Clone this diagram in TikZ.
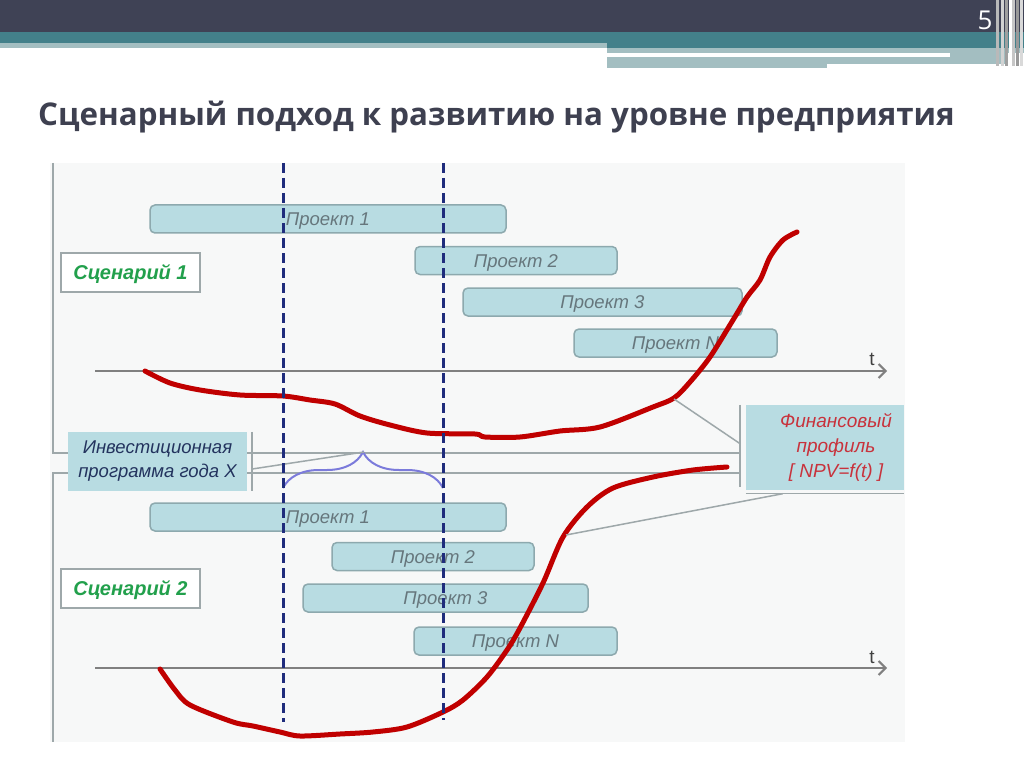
\documentclass[tikz,border=0pt]{standalone}
\usepackage{fontspec}
\setmainfont{Liberation Sans}
\newfontfamily\headfont{Open Sans}
\usetikzlibrary{arrows.meta,positioning,decorations.pathreplacing}
\definecolor{bannerdark}{HTML}{3F4255}
\definecolor{bannerteal}{HTML}{43808A}
\definecolor{bannerlight}{HTML}{A3BEC1}
\definecolor{titlegray}{HTML}{3E4050}
\definecolor{panelgray}{HTML}{F7F8F8}
\definecolor{framegray}{HTML}{9EA8AA}
\definecolor{barfill}{HTML}{B8DCE2}
\definecolor{barline}{HTML}{8DA9AE}
\definecolor{bartext}{HTML}{66767C}
\definecolor{scengreen}{HTML}{22A04C}
\definecolor{periodnavy}{HTML}{1F2C7C}
\definecolor{profred}{HTML}{C00000}
\definecolor{finred}{HTML}{C8323C}
\definecolor{invnavy}{HTML}{23335E}
\definecolor{bracelilac}{HTML}{7B7BDB}
\tikzset{
  project/.style={rectangle,rounded corners=5pt,draw=barline,line width=1.5pt,fill=barfill,minimum height=28pt,inner sep=0pt,text height=13.5pt,text depth=0pt,font=\fontsize{18.5}{22}\selectfont\itshape,text=bartext},
  scenario/.style={rectangle,draw=framegray,line width=1.2pt,fill=white,minimum width=139pt,minimum height=39pt,text height=14.5pt,text depth=0pt,font=\fontsize{20}{24}\selectfont\bfseries\itshape,text=scengreen},
  timeaxis/.style={-{Straight Barb[length=7pt,width=14pt]},line width=2pt,draw=gray},
  frameline/.style={draw=framegray,line width=1.5pt},
  period/.style={draw=periodnavy,line width=3pt,dash pattern=on 10pt off 5pt},
  profile/.style={draw=profred,line width=5pt,line cap=round,line join=round},
  callout/.style={rectangle,fill=barfill,inner sep=0pt,align=center},
  link/.style={draw=framegray,line width=1.5pt}
}

\begin{document}
\begin{tikzpicture}[x=1pt,y=-1pt]
    \useasboundingbox (0,0) rectangle (1024,767);
    \fill[white] (0,0) rectangle (1024,767);

    % banner
    \fill[bannerdark] (0,0) rectangle (1024,32);
    \fill[bannerteal] (0,32) rectangle (1024,43);
    \fill[bannerteal] (607,43) rectangle (1024,48);
    \fill[bannerlight] (0,43) rectangle (607,48);
    \fill[bannerlight] (607,48) rectangle (1024,53);
    \fill[bannerlight] (950,53) rectangle (1007,57);
    \fill[bannerlight] (607,57) rectangle (827,68);
    \fill[bannerlight] (827,57) rectangle (1007,64);
    \foreach \sx/\sc in {996/gray!55,1001/gray!35,1005/gray!75,1009/white,1012/gray!45,1016/gray!80,1020/gray!30} {
      \fill[\sc] (\sx,0) rectangle (\sx+3,66);
    }
    \node[font=\headfont\fontsize{26}{30}\selectfont,text=white] (pagenum) at (985,20) {5};
    \node[anchor=base west,inner sep=0pt,font=\headfont\bfseries\fontsize{31.3}{38}\selectfont,text=titlegray] (title) at (38,126) {Сценарный подход к развитию на уровне предприятия};

    % panel and frames
    \fill[panelgray] (50,163) rectangle (905,742);
    \draw[frameline] (53,163) -- (53,453) -- (740,453);
    \draw[frameline] (740,473) -- (53,473) -- (53,742);

    % time axes
    \coordinate (ax1s) at (95,371);
    \coordinate (ax1e) at (887,371);
    \coordinate (ax2s) at (95,668);
    \coordinate (ax2e) at (887,668);
    \draw[timeaxis] (ax1s) -- (ax1e);
    \draw[timeaxis] (ax2s) -- (ax2e);
    \node[font=\fontsize{19}{22}\selectfont,text=black!75] (t1) at (872,359) {t};
    \node[font=\fontsize{19}{22}\selectfont,text=black!75] (t2) at (872,657) {t};

    % projects
    \foreach \nm/\x/\y/\w/\lbl in {a1/328/219/356/Проект 1,a2/516/260.5/202/Проект 2,a3/602.5/302/279/Проект 3,aN/675.5/343/203/Проект N,
      b1/328/517/356/Проект 1,b2/433/556.5/202/Проект 2,b3/445.5/598/285/Проект 3,bN/515.5/641/203/Проект N} {
      \node[project,minimum width=\w pt] (\nm) at (\x,\y) {\lbl};
    }

    % scenarios
    \node[scenario] (sc1) at (130.5,272.5) {Сценарий 1};
    \node[scenario] (sc2) at (130.5,588.5) {Сценарий 2};

    % investment programme
    \node[callout,minimum width=179pt,minimum height=59pt,font=\fontsize{18.5}{24}\selectfont\itshape,text=invnavy] (inv) at (157.5,461.5) {Инвестиционная\\программа года X};
    \draw[link] ([xshift=5pt]inv.north east) -- ([xshift=5pt]inv.south east);
    \coordinate (brL) at (283,488);
    \coordinate (brR) at (443,488);
    \coordinate (brtip) at (364,452);
    \draw[draw=bracelilac,line width=2pt,decorate,decoration={brace,amplitude=36pt}] (brL) -- (brR);
    \draw[link] ([xshift=5pt,yshift=-7.5pt]inv.east) -- (brtip);

    % financial profile
    \node[callout,minimum width=158pt,minimum height=85pt] (fin) at (825,447.5) {};
    \node[align=center,inner sep=0pt,font=\fontsize{19}{25}\selectfont\itshape,text=finred] (finlbl) at (836,447) {Финансовый\\профиль\\{[} NPV=f(t) ]};
    \draw[link] ([xshift=-6pt]fin.north west) -- ([xshift=-6pt,yshift=3pt]fin.south west);
    \draw[link] ([yshift=-3.5pt]fin.south west) -- ([yshift=-3.5pt]fin.south east);

    % profiles
    \draw[profile] plot[smooth,tension=0.5] coordinates {(145,371) (170,383) (200,390) (240,395) (283,396) (310,400) (335,404) (360,416) (390,425) (427,433) (475,434) (485,437) (520,437) (560,431) (600,427) (653,407) (674,398) (690,382) (710,357) (733,320) (747,297) (760,280) (770,257) (783,240) (797,232)};
    \draw[profile] plot[smooth,tension=0.5] coordinates {(160,669) (175,690) (190,705) (233,722) (253,726) (280,732) (300,736) (340,734) (373,732) (407,727) (443,712) (463,700) (487,677) (507,650) (520,628) (543,583) (563,537) (587,507) (613,488) (653,477) (693,470) (727,467)};
    \coordinate (upprof) at (674,399);
    \coordinate (loprof) at (566,535);
    \draw[link] ([xshift=-6pt,yshift=4pt]fin.west) -- (upprof);
    \draw[link] ([xshift=37pt,yshift=-3.5pt]fin.south west) -- (loprof);

    % period of the programme
    \coordinate (per1t) at (283,163);
    \coordinate (per1b) at (283,722);
    \coordinate (per2t) at (443,163);
    \coordinate (per2b) at (443,720);
    \draw[period] (per1t) -- (per1b);
    \draw[period] (per2t) -- (per2b);
\end{tikzpicture}
\end{document}
